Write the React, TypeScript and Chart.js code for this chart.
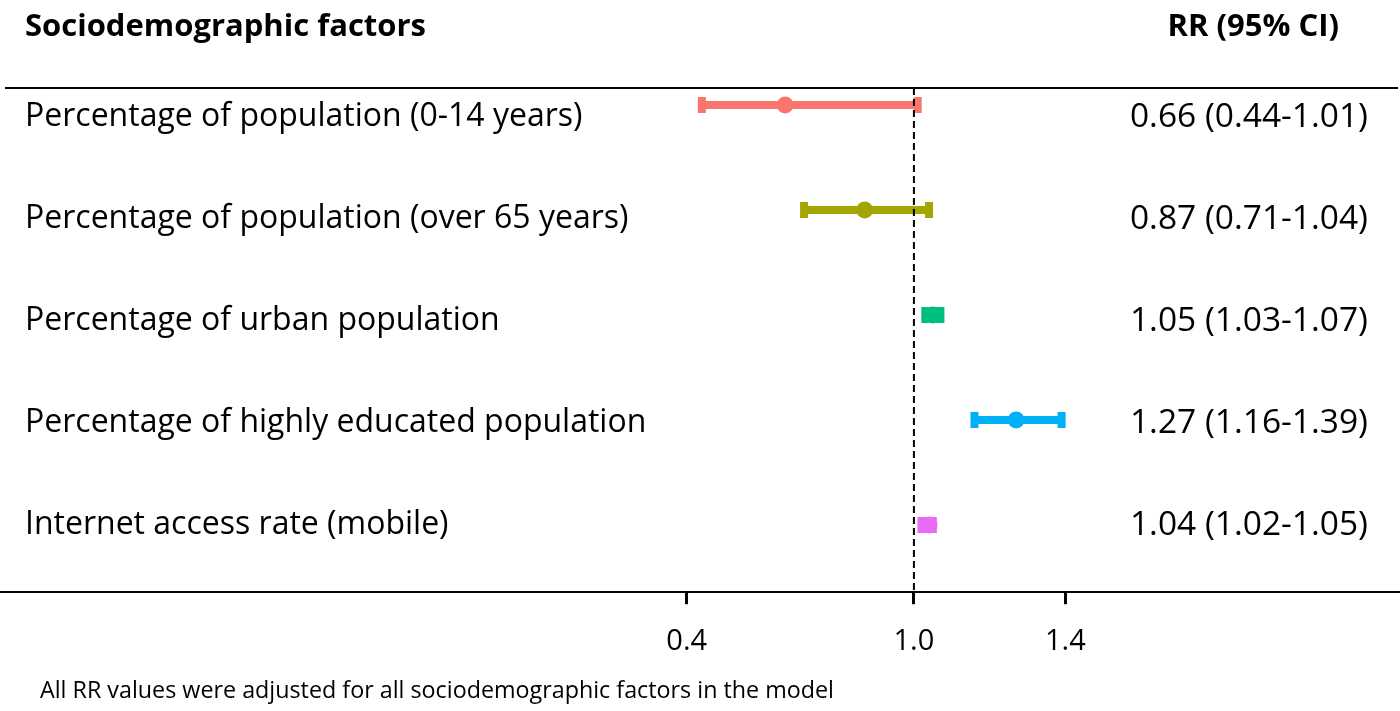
import React, { useEffect, useRef } from "react";
import { Chart, registerables } from "chart.js";

Chart.register(...registerables);

const FACTORS = [
  "Percentage of population (0-14 years)",
  "Percentage of population (over 65 years)",
  "Percentage of urban population",
  "Percentage of highly educated population",
  "Internet access rate (mobile)",
];
const RR = [0.66, 0.87, 1.05, 1.27, 1.04];
const CI_LOW = [0.44, 0.71, 1.03, 1.16, 1.02];
const CI_HIGH = [1.01, 1.04, 1.07, 1.39, 1.05];
const X_TICKS = [0.4, 1.0, 1.4];
const REF_VALUE = 1.0;
const COLORS = ["#F8766D", "#A3A500", "#00BF7D", "#00B0F6", "#E76BF3"];
const HEADER_LEFT = "Sociodemographic factors";
const HEADER_RIGHT = "RR (95% CI)";
const FOOTNOTE =
  "All RR values were adjusted for all sociodemographic factors in the model";

const ROWS = FACTORS.map((_, i) => i + 1);
const RR_LABELS = RR.map(
  (v, i) => `${v.toFixed(2)} (${CI_LOW[i].toFixed(2)}-${CI_HIGH[i].toFixed(2)})`
);

const FONT = "'Open Sans'";
const W = 1400;
const H = 711;

// vertical extents (row index units) of the marks axis and the label axes
const Y_MIN = 0.8377;
const Y_MAX = 5.6396;
const YL_MIN = 0.715;
const YL_MAX = 5.6585;

const decorPlugin = {
  id: "decor",
  afterDatasetsDraw(chart: any) {
    const { ctx, chartArea, scales } = chart;
    const xp = scales.x.getPixelForValue(REF_VALUE);
    ctx.save();
    ctx.strokeStyle = "#000";
    ctx.lineWidth = 2;
    ctx.setLineDash([7, 4]);
    ctx.beginPath();
    ctx.moveTo(xp, chartArea.top);
    ctx.lineTo(xp, chartArea.bottom);
    ctx.stroke();
    ctx.restore();
  },
  afterDraw(chart: any) {
    const { ctx, chartArea } = chart;
    ctx.save();
    ctx.strokeStyle = "#000";
    ctx.lineWidth = 2;
    ctx.beginPath();
    ctx.moveTo(5, chartArea.top);
    ctx.lineTo(chart.width - 2, chartArea.top);
    ctx.stroke();

    ctx.fillStyle = "#000";
    ctx.textBaseline = "alphabetic";
    ctx.font = `bold 31px ${FONT}`;
    ctx.textAlign = "left";
    ctx.fillText(HEADER_LEFT, 25, 36);
    ctx.textAlign = "right";
    ctx.fillText(HEADER_RIGHT, 1339, 36);

    ctx.font = `23.3px ${FONT}`;
    ctx.textAlign = "left";
    ctx.textBaseline = "middle";
    ctx.fillText(FOOTNOTE, 40, 691);
    ctx.restore();
  },
};

export default function App() {
  const canvasRef = useRef<HTMLCanvasElement | null>(null);

  useEffect(() => {
    document.body.style.margin = "0";
    const canvas = canvasRef.current;
    if (!canvas) return;

    const estimateDataset = {
      label: "RR",
      data: RR.map((v, i) => ({ x: v, y: ROWS[i] })),
      pointStyle: "circle",
      pointRadius: 8.5,
      pointHoverRadius: 8.5,
      pointBackgroundColor: COLORS,
      pointBorderColor: COLORS,
      pointBorderWidth: 0,
      showLine: false,
    };

    const ciDatasets = FACTORS.map((f, i) => ({
      label: f,
      data: [
        { x: CI_LOW[i], y: ROWS[i] },
        { x: CI_HIGH[i], y: ROWS[i] },
      ],
      showLine: true,
      borderColor: COLORS[i],
      backgroundColor: COLORS[i],
      borderWidth: 8,
      pointStyle: "line",
      rotation: 90,
      pointRadius: 8,
      pointHoverRadius: 8,
      pointBorderWidth: 8,
      pointBorderColor: COLORS[i],
    }));

    const labelAxis = (
      position: "left" | "right",
      labels: string[],
      padding: number,
      size: number
    ) => ({
      type: "linear",
      position,
      reverse: true,
      min: YL_MIN,
      max: YL_MAX,
      afterBuildTicks: (s: any) => {
        s.ticks = ROWS.map((v) => ({ value: v }));
      },
      afterFit: (s: any) => {
        s.width = 0;
      },
      ticks: {
        mirror: true,
        padding,
        crossAlign: "near",
        autoSkip: false,
        color: "#000",
        font: { family: FONT, size },
        callback: (v: any) => labels[Math.round(Number(v)) - 1] ?? "",
      },
      grid: { display: false, drawTicks: false },
      border: { display: false },
    });

    const chart = new Chart(canvas, {
      type: "scatter",
      data: { datasets: [estimateDataset, ...ciDatasets] as any },
      plugins: [decorPlugin],
      options: {
        responsive: false,
        animation: false,
        events: [],
        layout: {
          autoPadding: false,
          padding: { top: 88, left: 0, right: 0, bottom: 32 },
        },
        plugins: {
          legend: { display: false },
          tooltip: { enabled: false },
          title: { display: false },
        },
        scales: {
          x: {
            type: "linear",
            min: -1.4133,
            max: 2.2836,
            afterBuildTicks: (s: any) => {
              s.ticks = X_TICKS.map((v) => ({ value: v }));
            },
            ticks: {
              autoSkip: false,
              maxRotation: 0,
              padding: 20,
              color: "#000",
              font: { family: FONT, size: 29 },
              callback: (v: any) => Number(v).toFixed(1),
            },
            grid: {
              display: true,
              drawOnChartArea: false,
              drawTicks: true,
              tickLength: 12,
              tickWidth: 3,
              tickColor: "#000",
            },
            border: { display: true, color: "#000", width: 2 },
          },
          y: {
            type: "linear",
            display: false,
            reverse: true,
            min: Y_MIN,
            max: Y_MAX,
          },
          yl: labelAxis("left", FACTORS, 25, 32),
          yr: labelAxis("right", RR_LABELS, -32, 33.5),
        } as any,
      },
    });

    return () => chart.destroy();
  }, []);

  return (
    <div style={{ width: W, height: H, background: "#fff" }}>
      <canvas ref={canvasRef} width={W} height={H} style={{ width: W, height: H, display: "block" }} />
    </div>
  );
}
